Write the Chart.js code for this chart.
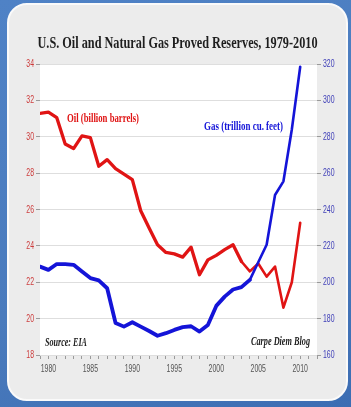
<!DOCTYPE html>
<html>
<head>
<meta charset="utf-8">
<script src="https://cdn.jsdelivr.net/npm/chart.js@4/dist/chart.umd.min.js"></script>
<style>
  html, body { margin: 0; padding: 0; }
  body {
    width: 351px; height: 407px; position: relative; overflow: hidden;
    background: linear-gradient(160deg, #4f82c6 0%, #4a7bbd 60%, #3c6db3 100%);
  }
  .card {
    position: absolute; left: 7px; top: 3px; width: 337px; height: 394px;
    background: #ececec; border: 2px solid #fafafa; border-radius: 20px;
  }
  #chart { position: absolute; left: 0; top: 0; }
</style>
</head>
<body>
<div class="card"></div>
<canvas id="chart" width="351" height="407"></canvas>
<script>
// ─── Data ─────────────────────────────────────────────────────────────────────
const years = [1979, 1980, 1981, 1982, 1983, 1984, 1985, 1986, 1987, 1988, 1989,
  1990, 1991, 1992, 1993, 1994, 1995, 1996, 1997, 1998, 1999,
  2000, 2001, 2002, 2003, 2004, 2005, 2006, 2007, 2008, 2009, 2010];

// billion barrels (left axis)
const oil = [31.28, 31.35, 31.05, 29.6, 29.35, 30.05, 29.95, 28.38, 28.74, 28.25, 27.95,
  27.64, 25.93, 24.98, 24.06, 23.64, 23.56, 23.38, 23.93, 22.41, 23.23,
  23.48, 23.79, 24.06, 23.14, 22.6, 23.03, 22.31, 22.86, 20.6, 22.0, 25.27];

// trillion cu. feet (right axis)
const gas = [208.6, 206.8, 210, 210, 209.6, 205.9, 202.3, 201, 196.7, 177.6, 175.6,
  178, 175.6, 173.2, 170.6, 172, 173.8, 175.3, 175.8, 172.9, 176.5,
  187, 192.1, 196, 197.3, 201.3, 211, 220.6, 248, 255.5, 284, 318.5];

const xMin = 1979, xMax = 2012;
const oilMin = 18, oilMax = 34, oilStep = 2;
const gasMin = 160, gasMax = 320, gasStep = 20;

const titleText  = 'U.S. Oil and Natural Gas Proved Reserves, 1979-2010';
const oilLabel   = 'Oil (billion barrels)';
const gasLabel   = 'Gas (trillion cu. feet)';
const sourceText = 'Source: EIA';
const blogText   = 'Carpe Diem Blog';

// ─── Styles ───────────────────────────────────────────────────────────────────
const OIL_COLOR = '#e01414';
const GAS_COLOR = '#1414d8';
const SANS  = "'Liberation Sans', Arial, sans-serif";
const SERIF = "'Liberation Serif', 'DejaVu Serif', serif";
const TICK_SQUEEZE = 0.63;   // the original uses a very narrow sans for ticks

// draw text squeezed horizontally (the original uses condensed faces)
function squeezeText(ctx, text, x, y, font, color, opts) {
  ctx.save();
  ctx.font = font;
  ctx.fillStyle = color;
  ctx.textBaseline = 'middle';
  const w = ctx.measureText(text).width;
  const sx = opts.width ? Math.min(1, opts.width / w) : opts.scale;
  const drawn = w * sx;
  const left = opts.align === 'center' ? x - drawn / 2 : opts.align === 'right' ? x - drawn : x;
  ctx.translate(left, y);
  ctx.scale(sx, 1);
  ctx.textAlign = 'left';
  ctx.fillText(text, 0, 0);
  ctx.restore();
}

// ─── Plugins ──────────────────────────────────────────────────────────────────
const plotBackground = {
  id: 'plotBackground',
  beforeDraw(chart) {
    const { ctx, chartArea: a } = chart;
    ctx.save();
    ctx.fillStyle = '#ffffff';
    ctx.fillRect(a.left, a.top, a.right - a.left, a.bottom - a.top);
    ctx.restore();
  }
};

// tick labels taken from the library's own scales, drawn narrow
const narrowTicks = {
  id: 'narrowTicks',
  afterDraw(chart) {
    const { ctx, chartArea: a, scales } = chart;
    const font = `11px ${SANS}`;
    scales.x.ticks.forEach(t => {
      if (!t.label) return;
      squeezeText(ctx, t.label, scales.x.getPixelForValue(t.value), a.bottom + 14,
        font, '#555', { scale: TICK_SQUEEZE, align: 'center' });
    });
    scales.yOil.ticks.forEach(t => {
      squeezeText(ctx, t.label, a.left - 6, scales.yOil.getPixelForValue(t.value),
        font, '#cc3b3b', { scale: TICK_SQUEEZE, align: 'right' });
    });
    scales.yGas.ticks.forEach(t => {
      squeezeText(ctx, t.label, a.right + 6, scales.yGas.getPixelForValue(t.value),
        font, '#4040b8', { scale: TICK_SQUEEZE, align: 'left' });
    });
  }
};

const annotations = {
  id: 'annotations',
  afterDraw(chart) {
    const { ctx, chartArea: a } = chart;
    squeezeText(ctx, titleText, (a.left + a.right) / 2 - 1, a.top - 20,
      `bold 16px ${SERIF}`, '#1e1e1e', { width: 280, align: 'center' });
    squeezeText(ctx, oilLabel, a.left + 27, a.top + 55,
      `bold 12px ${SERIF}`, OIL_COLOR, { width: 72 });
    squeezeText(ctx, gasLabel, a.left + 164, a.top + 63,
      `bold 12px ${SERIF}`, GAS_COLOR, { width: 79 });
    squeezeText(ctx, sourceText, a.left + 5, a.bottom - 12,
      `italic bold 12px ${SERIF}`, '#222', { width: 42 });
    squeezeText(ctx, blogText, a.right - 7, a.bottom - 13,
      `italic bold 12px ${SERIF}`, '#222', { width: 59, align: 'right' });
  }
};

// ─── Chart ────────────────────────────────────────────────────────────────────
const toPoints = vals => years.map((yr, i) => ({ x: yr, y: vals[i] }));

new Chart(document.getElementById('chart'), {
  type: 'line',
  data: {
    datasets: [
      {
        label: 'Gas', data: toPoints(gas), yAxisID: 'yGas',
        borderColor: GAS_COLOR, borderWidth: 3.8, pointRadius: 0, tension: 0,
        borderJoinStyle: 'round', borderCapStyle: 'round',
        segment: { borderWidth: ctx => ctx.p0.parsed.x >= 2004 ? 2.6 : 3.8 },
      },
      {
        label: 'Oil', data: toPoints(oil), yAxisID: 'yOil',
        borderColor: OIL_COLOR, borderWidth: 3.3, pointRadius: 0, tension: 0,
        borderJoinStyle: 'round', borderCapStyle: 'round',
        segment: { borderWidth: ctx => ctx.p0.parsed.x >= 2003 ? 2.6 : 3.3 },
      },
    ]
  },
  options: {
    responsive: false, animation: false, devicePixelRatio: 1,
    layout: { padding: { left: 10, right: 6, top: 64, bottom: 32 } },
    plugins: { legend: { display: false }, tooltip: { enabled: false } },
    scales: {
      x: {
        type: 'linear', min: xMin, max: xMax,
        border: { display: false },
        grid: { drawOnChartArea: false, drawTicks: true, tickLength: 4, tickColor: '#9a9a9a' },
        ticks: {
          display: false, stepSize: 1, autoSkip: false, maxRotation: 0,
          callback: v => v % 5 === 0 ? String(v) : ''
        },
        afterFit: s => { s.height = 20; }
      },
      yOil: {
        position: 'left', min: oilMin, max: oilMax,
        border: { display: false },
        grid: { color: '#dedede', tickColor: '#9a9a9a', tickLength: 4 },
        ticks: { display: false, stepSize: oilStep },
        afterFit: s => { s.width = 30; }
      },
      yGas: {
        position: 'right', min: gasMin, max: gasMax,
        border: { display: false },
        grid: { drawOnChartArea: false, tickColor: '#9a9a9a', tickLength: 4 },
        ticks: { display: false, stepSize: gasStep },
        afterFit: s => { s.width = 28; }
      }
    }
  },
  plugins: [plotBackground, narrowTicks, annotations]
});
</script>
</body>
</html>
